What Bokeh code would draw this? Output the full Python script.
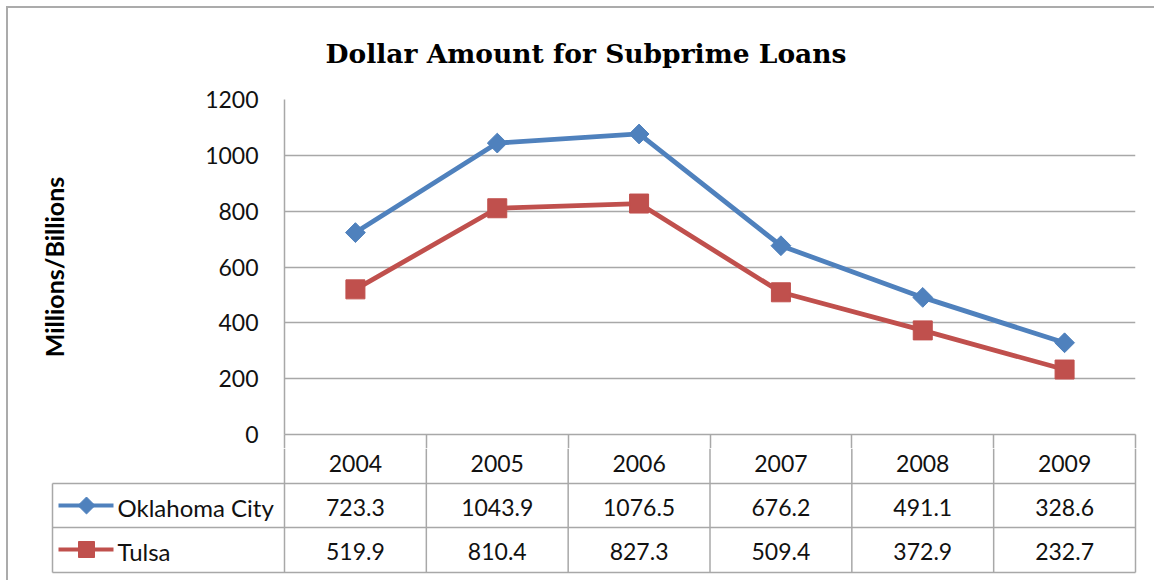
from bokeh.plotting import figure
from bokeh.layouts import column
from bokeh.models import Range1d, Title, FixedTicker, ColumnDataSource
from bokeh.core.properties import value
from bokeh.embed import file_html
from bokeh.resources import INLINE
import math

# ---------------- data ----------------
years = ["2004", "2005", "2006", "2007", "2008", "2009"]
okc = [723.3, 1043.9, 1076.5, 676.2, 491.1, 328.6]
tulsa = [519.9, 810.4, 827.3, 509.4, 372.9, 232.7]
series_names = ["Oklahoma City", "Tulsa"]
y_ticks = [0, 200, 400, 600, 800, 1000, 1200]
title_text = "Dollar Amount for Subprime Loans"
y_label = "Millions/Billions"

# ---------------- style / layout ----------------
BLUE = "#4F81BD"
RED = "#C0504D"
GRID = "#A8A8A8"
TXT = "#111111"
FONT = "Lato"
FS = "23px"

OFF = 8                      # page offset of content (margin + border)
PAGE_W = 1154
W = PAGE_W - OFF
FRAME_L = 284                # page x of plot frame left
FRAME_R = 1135
NCOL = len(years)
CW = (FRAME_R - FRAME_L) / NCOL
TICK_OUT = 14
H1 = 434 - OFF + TICK_OUT    # top figure height (frame bottom at page y 434)
H2 = 580 - OFF - H1          # table figure height

xs = [i + 0.5 for i in range(NCOL)]

# ---------------- chart ----------------
p1 = figure(width=W, height=H1, x_range=Range1d(0, NCOL), y_range=Range1d(0, 1200),
            output_backend="svg", toolbar_location=None,
            min_border_left=FRAME_L - OFF, min_border_right=PAGE_W - FRAME_R,
            min_border_top=99 - OFF, min_border_bottom=TICK_OUT)
p1.frame_align = False
p1.outline_line_color = None
p1.background_fill_color = "white"
p1.border_fill_color = "white"
p1.xgrid.grid_line_color = None
p1.ygrid.grid_line_color = GRID
p1.ygrid.grid_line_width = 1.5
p1.ygrid.ticker = FixedTicker(ticks=y_ticks)

ax = p1.yaxis[0]
ax.ticker = FixedTicker(ticks=y_ticks)
ax.axis_line_color = GRID
ax.axis_line_width = 1.5
ax.major_tick_line_color = None
ax.minor_tick_line_color = None
ax.major_label_standoff = 20
ax.major_label_text_font = FONT
ax.major_label_text_font_size = FS
ax.major_label_text_color = TXT
ax.axis_label = y_label
ax.axis_label_text_font = FONT
ax.axis_label_text_font_size = "25px"
ax.axis_label_text_font_style = "bold"
ax.axis_label_text_color = "#000000"
ax.axis_label_standoff = 133

# bottom axis: column-boundary ticks form the top of the data-table rules
bx = p1.xaxis[0]
bx.ticker = FixedTicker(ticks=list(range(NCOL + 1)))
bx.axis_line_color = GRID
bx.axis_line_width = 1.5
bx.major_tick_line_color = GRID
bx.major_tick_line_width = 1.5
bx.major_tick_in = 0
bx.major_tick_out = TICK_OUT
bx.minor_tick_line_color = None
bx.major_label_standoff = 0
bx.major_label_overrides = {i: "" for i in range(NCOL + 1)}
bx.major_label_text_font_size = "1px"

p1.title = Title(text=title_text, align="left", offset=41, vertical_align="top",
                 text_font="DejaVu Serif", text_font_size="26.5px",
                 text_font_style="bold", text_color="#000000", standoff=58)

src = ColumnDataSource(dict(x=xs, okc=okc, tulsa=tulsa))
p1.line("x", "okc", source=src, line_color=BLUE, line_width=4.8)
p1.scatter("x", "okc", source=src, marker="square", angle=math.pi / 4, size=14,
           fill_color=BLUE, line_color=BLUE)
p1.line("x", "tulsa", source=src, line_color=RED, line_width=4.8)
p1.scatter("x", "tulsa", source=src, marker="square", size=19,
           fill_color=RED, line_color=RED)

# ---------------- data table ----------------
TOP2 = OFF + H1                          # page y of table figure top
x_start = -(FRAME_L - OFF) / CW
x_end = NCOL + (PAGE_W - FRAME_R) / CW
leg_left = -(FRAME_L - 52) / CW

p2 = figure(width=W, height=H2, x_range=Range1d(x_start, x_end), y_range=Range1d(H2, 0),
            output_backend="svg", toolbar_location=None,
            x_axis_location=None, y_axis_location=None,
            min_border=0, min_border_left=0, min_border_right=0,
            min_border_top=0, min_border_bottom=0)
p2.frame_align = False
p2.outline_line_color = None
p2.grid.grid_line_color = None
p2.background_fill_color = "white"
p2.border_fill_color = "white"

row_edges = [483 - TOP2, 527 - TOP2, 572 - TOP2]   # y of horizontal rules (table px)
p2.segment(x0=[leg_left] * 3, y0=row_edges, x1=[NCOL] * 3, y1=row_edges,
           line_color=GRID, line_width=1.5)
vx = list(range(NCOL + 1))
p2.segment(x0=vx, y0=[0] * len(vx), x1=vx, y1=[row_edges[-1]] * len(vx),
           line_color=GRID, line_width=1.5)
p2.segment(x0=[leg_left], y0=[row_edges[0]], x1=[leg_left], y1=[row_edges[-1]],
           line_color=GRID, line_width=1.5)

row_y = [463 - TOP2, 507 - TOP2, 551 - TOP2]

p2.text(x=xs, y=[row_y[0]] * NCOL, text=years, text_align="center", text_baseline="middle",
        text_font=value(FONT), text_font_size=FS, text_color=TXT)
p2.text(x=xs, y=[row_y[1]] * NCOL, text=[f"{v:.1f}" for v in okc], text_align="center",
        text_baseline="middle", text_font=value(FONT), text_font_size=FS, text_color=TXT)
p2.text(x=xs, y=[row_y[2]] * NCOL, text=[f"{v:.1f}" for v in tulsa], text_align="center",
        text_baseline="middle", text_font=value(FONT), text_font_size=FS, text_color=TXT)

# legend keys inside the table
lk0 = (58 - FRAME_L) / CW
lk1 = (113 - FRAME_L) / CW
lkm = (86 - FRAME_L) / CW
ltx = (117 - FRAME_L) / CW
ly = [row_y[1] - 2, row_y[2] - 2]
p2.segment(x0=[lk0, lk0], y0=ly, x1=[lk1, lk1], y1=ly, line_color=[BLUE, RED], line_width=4)
p2.scatter(x=[lkm], y=[ly[0]], marker="square", angle=math.pi / 4, size=12,
           fill_color=BLUE, line_color=BLUE)
p2.scatter(x=[lkm], y=[ly[1]], marker="square", size=16, fill_color=RED, line_color=RED)
p2.text(x=[ltx, ltx], y=[row_y[1], row_y[2]], text=series_names, text_align="left",
        text_baseline="middle", text_font=value(FONT), text_font_size="24px", text_color=TXT)

layout = column(p1, p2, spacing=0, margin=(6, 0, 0, 6),
                styles={"border-left": "2px solid #ABABAB", "border-top": "2px solid #ABABAB"})

open("out.html", "w").write(file_html(layout, INLINE))
